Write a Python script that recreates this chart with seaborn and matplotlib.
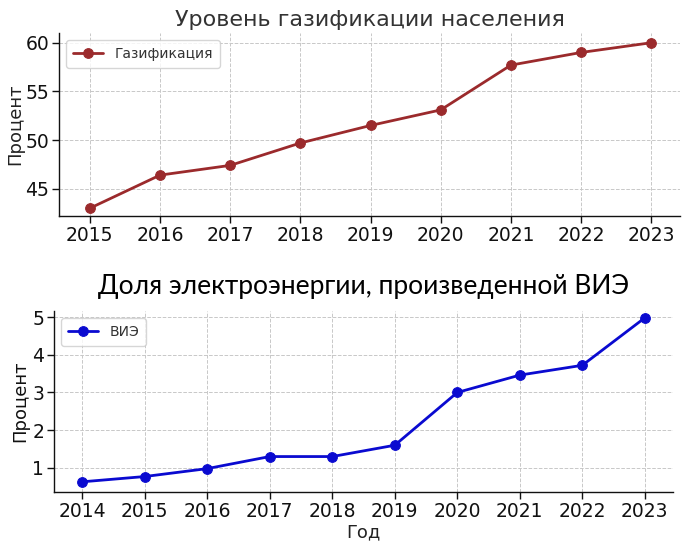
import matplotlib
matplotlib.use("Agg")
import matplotlib.pyplot as plt
import seaborn as sns
import pandas as pd

years_gas = [2015, 2016, 2017, 2018, 2019, 2020, 2021, 2022, 2023]
gas_values = [43.0, 46.4, 47.4, 49.7, 51.5, 53.1, 57.7, 59.0, 60.0]
years_res = [2014, 2015, 2016, 2017, 2018, 2019, 2020, 2021, 2022, 2023]
res_values = [0.63, 0.77, 0.98, 1.3, 1.3, 1.6, 3.0, 3.46, 3.72, 4.98]

title_gas = "Уровень газификации населения"
title_res = "Доля электроэнергии, произведенной ВИЭ"
label_gas = "Газификация"
label_res = "ВИЭ"
ylabel = "Процент"
xlabel = "Год"

sns.set_theme(style="ticks")
plt.rcParams['font.family'] = ['DejaVu Sans']

tick_font = ['Liberation Sans Narrow', 'DejaVu Sans']

fig = plt.figure(figsize=(6.89, 5.44), dpi=100)
W, H = 689, 544
ax1 = fig.add_axes([59 / W, 1 - 216 / H, (680 - 59) / W, (216 - 33) / H])
ax2 = fig.add_axes([54 / W, 1 - 492 / H, (673 - 54) / W, (492 - 311) / H])

df1 = pd.DataFrame({"year": years_gas, "value": gas_values})
df2 = pd.DataFrame({"year": years_res, "value": res_values})

sns.lineplot(data=df1, x="year", y="value", marker="o", color="#9b2a2c",
             linewidth=2, markersize=7, markeredgecolor="#9b2a2c",
             label=label_gas, ax=ax1)
sns.lineplot(data=df2, x="year", y="value", marker="o", color="#0a0ad0",
             linewidth=2, markersize=7, markeredgecolor="#0a0ad0",
             label=label_res, ax=ax2)

ax1.set_xlim(2014.56, 2023.41)
ax1.set_ylim(42.2, 61.0)
ax1.set_xticks(years_gas)
ax1.set_yticks([45, 50, 55, 60])
ax2.set_xlim(2013.55, 2023.45)
ax2.set_ylim(0.36, 5.16)
ax2.set_xticks(years_res)
ax2.set_yticks([1, 2, 3, 4, 5])

for ax in (ax1, ax2):
    sns.despine(ax=ax)
    ax.grid(True, linestyle="--", color="#c8c8c8", linewidth=0.7)
    ax.tick_params(axis="both", direction="out", length=5, width=1, labelsize=13.5,
                   colors="#111111", pad=2)
    for lab in ax.get_xticklabels() + ax.get_yticklabels():
        lab.set_family(tick_font)
    for s in ("left", "bottom"):
        ax.spines[s].set_color("#111111")
        ax.spines[s].set_linewidth(1.0)
    leg = ax.legend(loc="upper left", fontsize=10, frameon=True, fancybox=True,
                    handlelength=2.2, borderpad=0.5)
    leg.get_frame().set_edgecolor("#cccccc")
    for t in leg.get_texts():
        t.set_color("#333333")

ax1.set_xlabel("")
ax1.set_ylabel(ylabel, fontsize=13, color="#222222", labelpad=1)
ax1.set_title(title_gas, fontsize=16, color="#333333", pad=5)

ax2.set_xlabel(xlabel, fontsize=13, color="#222222", labelpad=2)
ax2.set_ylabel(ylabel, fontsize=13, color="#111111", labelpad=2)
ax2.set_title(title_res, fontsize=19, color="#000000", pad=12,
              family=['Lato', 'DejaVu Sans'])

fig.savefig("out.png", dpi=100)
